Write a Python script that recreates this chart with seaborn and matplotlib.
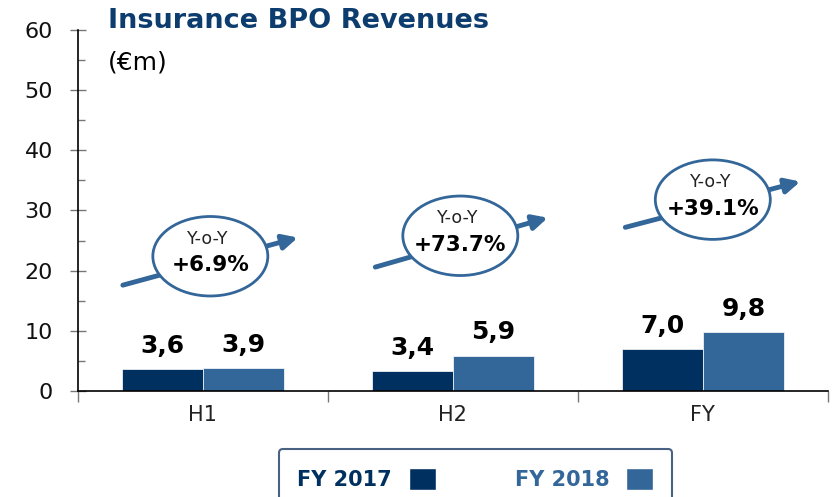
import pandas as pd
import matplotlib.pyplot as plt
import seaborn as sns
from matplotlib.patches import Ellipse, Patch

# data
periods = ["H1", "H2", "FY"]
rev_2017 = [3.6, 3.4, 7.0]
rev_2018 = [3.9, 5.9, 9.8]
years = ["FY 2017", "FY 2018"]
growth = ["+6.9%", "+73.7%", "+39.1%"]
labels_2017 = ["3,6", "3,4", "7,0"]
labels_2018 = ["3,9", "5,9", "9,8"]

navy = "#00305f"
steel = "#336699"

df = pd.DataFrame({
    "period": periods * 2,
    "year": [years[0]] * 3 + [years[1]] * 3,
    "value": rev_2017 + rev_2018,
})

sns.set_style("white")
plt.rcParams["font.family"] = ["DejaVu Sans"]

fig = plt.figure(figsize=(8.37, 4.97), dpi=100)
ax = fig.add_axes([0.093, 0.213, 0.896, 0.727])

sns.barplot(data=df, x="period", y="value", hue="year", order=periods,
            palette=[navy, steel], width=0.65, gap=0, saturation=1,
            edgecolor="white", linewidth=0.5, legend=False, ax=ax)

ax.set_xlim(-0.5, 2.5)
ax.set_ylim(0, 60)
ax.set_yticks(range(0, 61, 10))
ax.set_yticks(range(5, 60, 10), minor=True)
ax.set_xticks([-0.5, 0.5, 1.5, 2.5], minor=True)
ax.tick_params(axis="y", which="major", left=True, direction="inout", length=12,
               width=1, color="#777777", labelsize=16, pad=12, labelcolor="#111111")
ax.tick_params(axis="y", which="minor", left=True, direction="in", length=5,
               width=1, color="#777777")
ax.tick_params(axis="x", which="major", length=0, labelsize=15, pad=10,
               labelcolor="#222222")
ax.tick_params(axis="x", which="minor", bottom=True, direction="out", length=8,
               width=1, color="#777777")
ax.set_xlabel("")
ax.set_ylabel("")
sns.despine(ax=ax)
for s in ["left", "bottom"]:
    ax.spines[s].set_color("black")
    ax.spines[s].set_linewidth(1.2)

# value labels
off = 0.65 / 4
for i in range(3):
    ax.annotate(labels_2017[i], (i - off, rev_2017[i]), xytext=(0, 8),
                textcoords="offset points", ha="center", va="bottom",
                fontsize=18, fontweight="bold", color="black")
    ax.annotate(labels_2018[i], (i + off, rev_2018[i]), xytext=(0, 8),
                textcoords="offset points", ha="center", va="bottom",
                fontsize=18, fontweight="bold", color="black")

# growth bubbles with arrows
bubbles = [(0.03, 22.4), (1.03, 25.8), (2.04, 31.8)]
arrows = [((-0.32, 17.6), (0.38, 25.5)),
          ((0.69, 20.6), (1.38, 28.8)),
          ((1.69, 27.2), (2.39, 34.8))]
for (cx, cy), (p0, p1), g in zip(bubbles, arrows, growth):
    ax.annotate("", xy=p1, xytext=p0,
                arrowprops=dict(arrowstyle="-|>", lw=3.5, color=steel,
                                mutation_scale=22, shrinkA=0, shrinkB=0),
                zorder=3)
    ax.add_patch(Ellipse((cx, cy), 0.46, 13.2, facecolor="white",
                         edgecolor=steel, lw=2, zorder=4))
    ax.text(cx - 0.01, cy + 2.9, "Y-o-Y", ha="center", va="center",
            fontsize=12.5, color="#222222", zorder=5)
    ax.text(cx, cy - 1.5, g, ha="center", va="center", fontsize=15.5,
            fontweight="bold", color="black", zorder=5)

# titles
fig.text(0.129, 0.958, "Insurance BPO Revenues", ha="left", va="center",
         fontsize=19.5, fontweight="bold", color="#0d3d6e")
fig.text(0.129, 0.875, "(€m)", ha="left", va="center", fontsize=18,
         color="black")

# legend
handles = [Patch(facecolor=navy), Patch(facecolor=steel)]
leg = fig.legend(handles, years, loc="upper center",
                 bbox_to_anchor=(0.568, 0.097), ncol=2, markerfirst=False,
                 frameon=True, fancybox=True, fontsize=15,
                 handlelength=1.3, handleheight=1.3, columnspacing=3.8,
                 borderpad=0.9, borderaxespad=0, handletextpad=0.8)
leg.get_frame().set_edgecolor("#1b3a63")
leg.get_frame().set_linewidth(1.5)
for t, c in zip(leg.get_texts(), [navy, steel]):
    t.set_color(c)
    t.set_fontweight("bold")

fig.savefig("out.png", dpi=100)
